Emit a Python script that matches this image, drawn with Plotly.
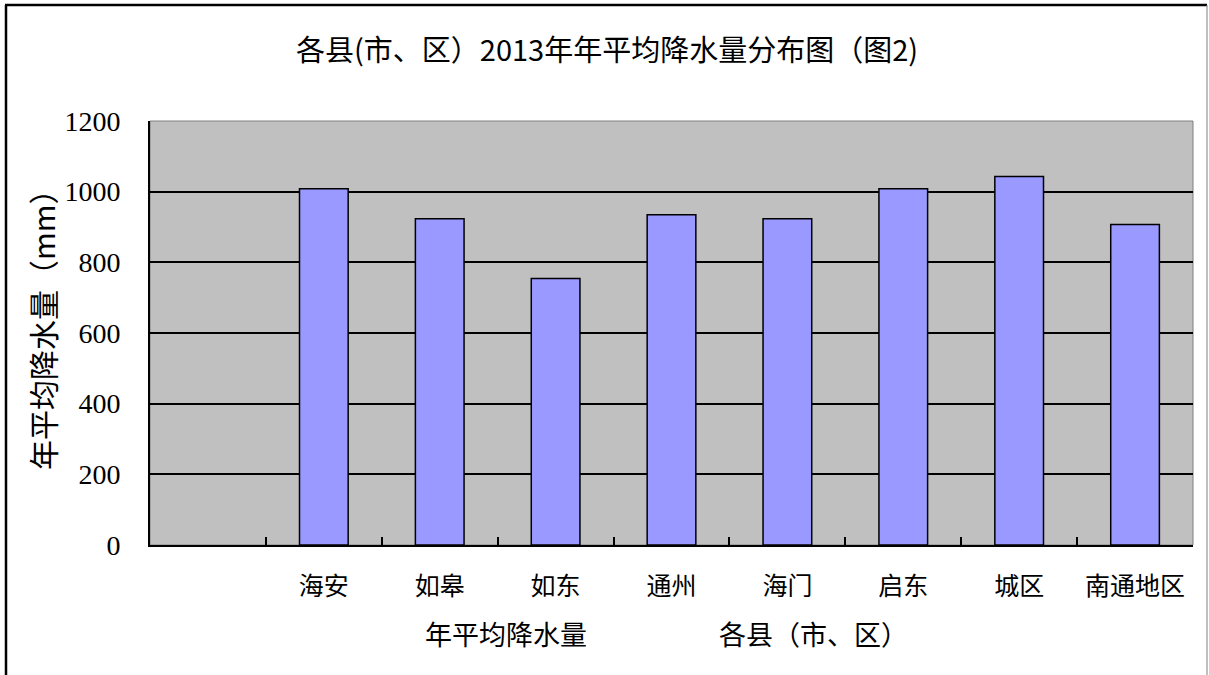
import plotly.graph_objects as go

categories = [" ", "海安", "如皋", "如东", "通州", "海门", "启东", "城区", "南通地区"]
rainfall = [None, 1008, 923, 754, 935, 923, 1008, 1043, 907]
y_ticks = [0, 200, 400, 600, 800, 1000, 1200]

title_text = "各县(市、区）2013年年平均降水量分布图（图2)"
y_title = "年平均降水量（mm）"
legend_text = "年平均降水量"
x_title = "各县（市、区）"

W, H = 1209, 675
L, R, T, B = 150, 16, 121, 130
pw, ph = W - L - R, H - T - B

def px(x):
    return (x - L) / pw

def py(y):
    return (H - B - y) / ph

cjk = "Noto Sans CJK SC"
serif = "Liberation Serif"

fig = go.Figure()
fig.add_trace(go.Bar(
    x=categories, y=rainfall,
    marker=dict(color="#9999FF", line=dict(color="black", width=1.5)),
    showlegend=False,
))

fig.update_layout(
    width=W, height=H,
    margin=dict(l=L, r=R, t=T, b=B),
    paper_bgcolor="white",
    plot_bgcolor="#C0C0C0",
    bargap=0.58,
    xaxis=dict(
        type="category",
        tickson="boundaries",
        ticks="inside", ticklen=8, tickwidth=1.5, tickcolor="black",
        showline=True, linecolor="black", linewidth=2,
        showgrid=False,
        tickfont=dict(family=cjk, size=25, color="black"),
        ticklabelstandoff=18,
        range=[-0.5, 8.5],
    ),
    yaxis=dict(
        range=[0, 1200],
        tickvals=y_ticks,
        ticktext=[str(v) for v in y_ticks],
        ticks="inside", ticklen=8, tickwidth=1.5, tickcolor="black",
        showline=True, linecolor="black", linewidth=2,
        showgrid=True, gridcolor="black", gridwidth=1.5,
        tickfont=dict(family=serif, size=28, color="black"),
        ticklabelstandoff=22,
        zeroline=False,
    ),
    shapes=[
        dict(type="rect", xref="paper", yref="paper", x0=0, x1=1, y0=0, y1=1,
             line=dict(color="#808080", width=1), layer="below"),
        dict(type="line", xref="paper", yref="paper", x0=px(6), x1=px(6), y0=py(5), y1=py(690),
             line=dict(color="black", width=2.5)),
        dict(type="line", xref="paper", yref="paper", x0=px(5), x1=px(1207), y0=py(5), y1=py(5),
             line=dict(color="black", width=2.5)),
        dict(type="line", xref="paper", yref="paper", x0=px(1207), x1=px(1207), y0=py(5), y1=py(690),
             line=dict(color="#808080", width=1)),
    ],
    annotations=[
        dict(text=title_text, xref="paper", yref="paper", x=px(607), y=py(48),
             showarrow=False, font=dict(family=cjk, size=29, color="black"),
             xanchor="center", yanchor="middle"),
        dict(text=y_title, xref="paper", yref="paper", x=px(42), y=py(322),
             showarrow=False, textangle=-90, font=dict(family=cjk, size=30, color="black"),
             xanchor="center", yanchor="middle"),
        dict(text=legend_text, xref="paper", yref="paper", x=px(506), y=py(633),
             showarrow=False, font=dict(family=cjk, size=27, color="black"),
             xanchor="center", yanchor="middle"),
        dict(text=x_title, xref="paper", yref="paper", x=px(813), y=py(633),
             showarrow=False, font=dict(family=cjk, size=27, color="black"),
             xanchor="center", yanchor="middle"),
    ],
)

fig.write_html("out.html")
